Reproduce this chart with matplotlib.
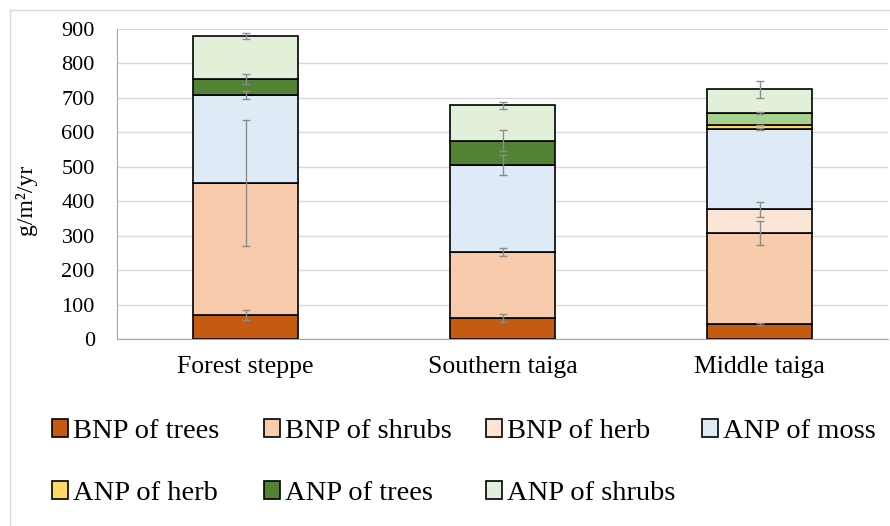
import matplotlib
matplotlib.use("Agg")
import matplotlib.pyplot as plt
import numpy as np

plt.rcParams['font.family'] = ['Liberation Serif', 'DejaVu Serif']

sites = ['Forest steppe', 'Southern taiga', 'Middle taiga']
series = ['BNP of trees', 'BNP of shrubs', 'BNP of herb', 'ANP of moss',
          'ANP of herb', 'ANP of trees', 'ANP of shrubs']

# values per series (g/m2/yr), one per site
bnp_trees = [70, 60, 43]
bnp_shrubs = [383, 192, 265]
bnp_herb = [0, 0, 68]
anp_moss = [255, 253, 233]
anp_herb = [0, 0, 11]
anp_trees = [47, 71, 35]
anp_shrubs = [125, 103, 70]

# error bars (+/-)
err_bnp_trees = [15, 12, 3]
err_bnp_shrubs = [183, 12, 35]
err_bnp_herb = [0, 0, 23]
err_anp_moss = [12, 29, 3]
err_anp_herb = [0, 0, 0]
err_anp_trees = [15, 31, 3]
err_anp_shrubs = [8, 10, 25]

values = [bnp_trees, bnp_shrubs, bnp_herb, anp_moss, anp_herb, anp_trees, anp_shrubs]
errors = [err_bnp_trees, err_bnp_shrubs, err_bnp_herb, err_anp_moss,
          err_anp_herb, err_anp_trees, err_anp_shrubs]
colors = ['#C55A11', '#F8CBAD', '#FBE5D6', '#DEEBF7', '#FFD966', '#548235', '#E2F0D9']

fig = plt.figure(figsize=(8.9, 5.26), dpi=100)
ax = fig.add_axes([117/890, 1 - 339/526, (888 - 117)/890, 310/526])

x = np.arange(len(sites))
bottom = np.zeros(len(sites))
handles = []
for name, vals, errs, col in zip(series, values, errors, colors):
    vals = np.array(vals, dtype=float)
    cols = [col] * len(sites)
    if name == 'ANP of trees':
        cols[2] = '#A9D18E'  # lighter green in middle taiga
    b = ax.bar(x, vals, 0.405, bottom=bottom, color=cols, edgecolor='black',
               linewidth=1.2, label=name, zorder=2)
    b.patches[0].set_facecolor(col)
    handles.append(b)
    top = bottom + vals
    mask = vals > 0
    ax.errorbar(x[mask], top[mask], yerr=np.array(errs)[mask], fmt='none',
                ecolor='#8c8c8c', elinewidth=1.0, capsize=2.7, capthick=1.0, zorder=3)
    bottom = top

ax.set_xlim(-0.5, 2.5)
ax.set_ylim(0, 900)
ax.set_yticks(range(0, 901, 100))
ax.set_xticks(x)
ax.set_xticklabels(sites, fontsize=18.5)
ax.tick_params(axis='x', length=0, labelsize=18.5, pad=12)
ax.tick_params(axis='y', length=0, labelsize=16, pad=16)
ax.yaxis.grid(True, color='#d9d9d9', linewidth=1.0, zorder=0)
ax.set_axisbelow(True)
for s in ['top', 'right']:
    ax.spines[s].set_visible(False)
ax.spines['left'].set_color('#a6a6a6')
ax.spines['bottom'].set_color('#a6a6a6')
ax.set_ylabel('g/m²/yr', fontsize=17)
ax.yaxis.set_label_coords((37 - 117)/771, (339 - 200)/310)

# legend: 4 columns, filled row by row
legend_cols = [[0, 4], [1, 5], [2, 6], [3]]
col_x = [52, 264, 486, 702]
for idx, cx in zip(legend_cols, col_x):
    leg = fig.legend([handles[i] for i in idx], [series[i] for i in idx],
                     loc='upper left', bbox_to_anchor=(cx/890, 1 - 419/526),
                     frameon=False, fontsize=20.5, handlelength=0.55, handleheight=0.55,
                     handletextpad=0.2, labelspacing=1.3, borderpad=0, borderaxespad=0)

# outer chart frame
fig.add_artist(plt.Line2D([10/890, 10/890], [0, 1 - 10/526], color='#d9d9d9', lw=1.0))
fig.add_artist(plt.Line2D([10/890, 1], [1 - 10/526, 1 - 10/526], color='#d9d9d9', lw=1.0))

fig.savefig('out.png', dpi=100)
